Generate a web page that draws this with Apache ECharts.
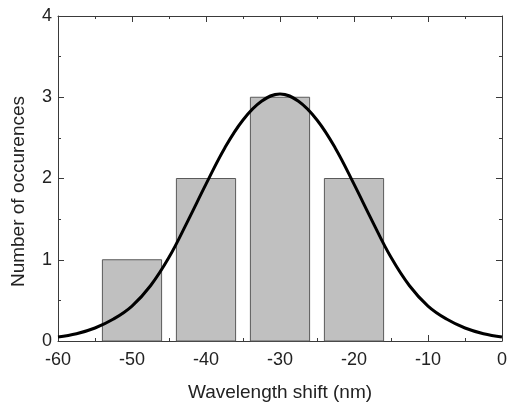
<!DOCTYPE html>
<html>
<head>
<meta charset="utf-8">
<script src="https://cdn.jsdelivr.net/npm/echarts@6/dist/echarts.min.js"></script>
<style>
  html, body { margin: 0; padding: 0; background: #fff; }
  #chart { width: 510px; height: 407px; }
</style>
</head>
<body>
<div id="chart"></div>
<script>
'use strict';
// histogram bins (nm)
var binStart = [-54, -44, -34, -24];
var binEnd = [-46, -36, -26, -16];
var counts = [1, 2, 3, 2];

// gaussian fit curve
var fitX = [-60, -57.5, -55, -52.5, -50, -47.5, -45, -42.5, -40, -37.5, -35, -32.5, -30,
            -27.5, -25, -22.5, -20, -17.5, -15, -12.5, -10, -7.5, -5, -2.5, 0];
var fitY = [0.05, 0.09, 0.16, 0.27, 0.43, 0.68, 1.03, 1.47, 1.93, 2.37, 2.72, 2.95, 3.04,
            2.95, 2.72, 2.37, 1.93, 1.47, 1.03, 0.68, 0.43, 0.27, 0.16, 0.09, 0.05];

var xTicks = [-60, -50, -40, -30, -20, -10, 0];
var yTicks = [0, 1, 2, 3, 4];

var fontFam = 'Liberation Sans, Arial, sans-serif';

var barData = [];
for (var i = 0; i < counts.length; i++) {
    barData.push([binStart[i], binEnd[i], counts[i]]);
}
var lineData = [];
for (var j = 0; j < fitX.length; j++) {
    lineData.push([fitX[j], fitY[j]]);
}

// all four sides of the frame, ticks pointing in
var boxLine = { show: true, onZero: false, lineStyle: { color: '#3a3a3a', width: 1 } };
var majorTick = { show: true, inside: true, length: 6, lineStyle: { color: '#3a3a3a' } };
var minorTick = { show: true, splitNumber: 2, length: 3, lineStyle: { color: '#3a3a3a' } };

var chart = echarts.init(document.getElementById('chart'));
chart.setOption({
    animation: false,
    grid: { left: 58, right: 7, top: 16, bottom: 65 },
    xAxis: [{
        type: 'value',
        min: xTicks[0],
        max: xTicks[xTicks.length - 1],
        interval: 10,
        name: 'Wavelength shift (nm)',
        nameLocation: 'middle',
        nameGap: 42,
        nameTextStyle: { fontFamily: fontFam, fontSize: 19, color: '#222' },
        axisLine: boxLine,
        axisTick: majorTick,
        minorTick: minorTick,
        splitLine: { show: false },
        axisLabel: { fontFamily: fontFam, fontSize: 18, color: '#222', margin: 10 }
    }, {
        type: 'value',
        position: 'top',
        min: xTicks[0],
        max: xTicks[xTicks.length - 1],
        interval: 10,
        axisLine: boxLine,
        axisTick: majorTick,
        minorTick: minorTick,
        splitLine: { show: false },
        axisLabel: { show: false }
    }],
    yAxis: [{
        type: 'value',
        min: yTicks[0],
        max: yTicks[yTicks.length - 1],
        interval: 1,
        name: 'Number of occurences',
        nameLocation: 'middle',
        nameGap: 30,
        nameTextStyle: { fontFamily: fontFam, fontSize: 19, color: '#222', padding: [0, 26, 0, 0] },
        axisLine: boxLine,
        axisTick: majorTick,
        minorTick: minorTick,
        splitLine: { show: false },
        axisLabel: { fontFamily: fontFam, fontSize: 18, color: '#222', margin: 6 }
    }, {
        type: 'value',
        position: 'right',
        min: yTicks[0],
        max: yTicks[yTicks.length - 1],
        interval: 1,
        axisLine: boxLine,
        axisTick: majorTick,
        minorTick: minorTick,
        splitLine: { show: false },
        axisLabel: { show: false }
    }],
    series: [{
        type: 'custom',
        xAxisIndex: 0,
        yAxisIndex: 0,
        data: barData,
        renderItem: function (params, api) {
            var p0 = api.coord([api.value(0), api.value(2)]);
            var p1 = api.coord([api.value(1), 0]);
            return {
                type: 'rect',
                shape: { x: p0[0], y: p0[1], width: p1[0] - p0[0], height: p1[1] - p0[1] },
                style: { fill: '#c0c0c0', stroke: '#5a5a5a', lineWidth: 1 }
            };
        },
        z: 1
    }, {
        type: 'line',
        xAxisIndex: 0,
        yAxisIndex: 0,
        data: lineData,
        smooth: 0.4,
        showSymbol: false,
        lineStyle: { color: '#000', width: 3 },
        z: 3
    }]
});
</script>
</body>
</html>
